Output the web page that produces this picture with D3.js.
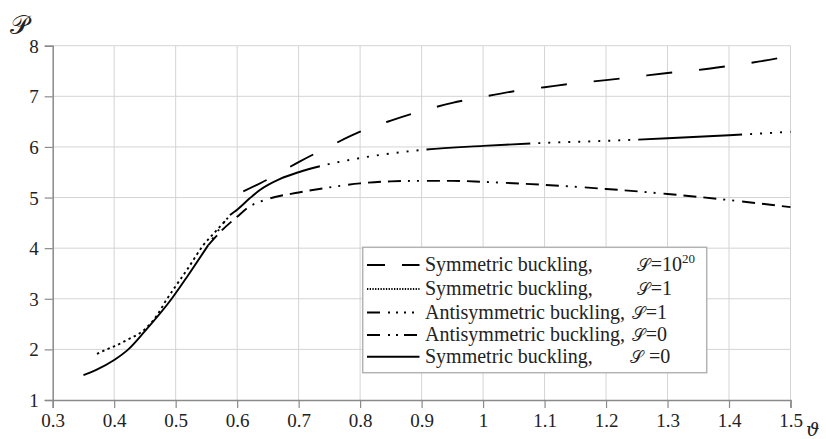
<!DOCTYPE html>
<html><head><meta charset="utf-8">
<script src="https://cdn.jsdelivr.net/npm/d3@7"></script>
<style>body{margin:0;background:#fff}svg{display:block}</style>
</head><body>
<svg id="c" width="826" height="439"></svg>
<script>
// Data
const xTicks = [0.3,0.4,0.5,0.6,0.7,0.8,0.9,1,1.1,1.2,1.3,1.4,1.5];
const yTicks = [1,2,3,4,5,6,7,8];
const symInf = [[0.61,5.12],[0.65,5.36],[0.7,5.70],[0.75,6.01],[0.8,6.30],[0.85,6.52],[0.9,6.71],[0.95,6.87],[1.0,6.99],[1.05,7.10],[1.1,7.18],[1.15,7.26],[1.2,7.32],[1.25,7.39],[1.3,7.46],[1.35,7.52],[1.4,7.60],[1.45,7.69],[1.5,7.80]];
const symS1 = [[0.372,1.91],[0.388,2.0],[0.4,2.06],[0.42,2.18],[0.45,2.4],[0.47,2.68],[0.485,2.98],[0.5,3.25],[0.52,3.6],[0.545,4.06],[0.565,4.33],[0.585,4.6]];
const antiS1 = [[0.553,4.06],[0.57,4.36],[0.589,4.66],[0.6,4.76],[0.62,4.98],[0.637,5.15],[0.67,5.37],[0.7,5.50],[0.735,5.62],[0.8,5.78],[0.9,5.94],[1.0,6.02],[1.1,6.08],[1.2,6.12],[1.3,6.17],[1.4,6.23],[1.5,6.30]];
const antiS0 = [[0.553,4.06],[0.575,4.35],[0.6,4.62],[0.62,4.82],[0.65,4.97],[0.7,5.10],[0.75,5.20],[0.8,5.28],[0.85,5.32],[0.9,5.33],[0.95,5.33],[1.0,5.31],[1.1,5.25],[1.2,5.17],[1.3,5.07],[1.4,4.95],[1.5,4.81]];
const symS0 = [[0.35,1.49],[0.37,1.59],[0.4,1.79],[0.423,2.0],[0.45,2.36],[0.4935,3.0],[0.52,3.46],[0.553,4.06]];
const legendLabels = ["Symmetric buckling,","Symmetric buckling,","Antisymmetric buckling,","Antisymmetric buckling,","Symmetric buckling,"];
const legendS = [["=10","20"],["=1",""],["=1",""],["=0",""],[" =0",""]];

const svg = d3.select("#c");
const x = d3.scaleLinear().domain([0.3,1.5]).range([52.7,790.5]);
const y = d3.scaleLinear().domain([1,8]).range([400,45.7]);
const serif = "Liberation Serif";

// grid
svg.append("g").selectAll("line").data(xTicks.slice(1)).join("line")
  .attr("x1",d=>x(d)).attr("x2",d=>x(d)).attr("y1",y(1)).attr("y2",y(8))
  .attr("stroke","#d4d4d4").attr("stroke-width",1);
svg.append("g").selectAll("line").data(yTicks.slice(1)).join("line")
  .attr("x1",x(0.3)).attr("x2",x(1.5)).attr("y1",d=>y(d)).attr("y2",d=>y(d))
  .attr("stroke","#d4d4d4").attr("stroke-width",1);

// axes
const xAxis = svg.append("g").attr("transform",`translate(0,${y(1)})`)
  .call(d3.axisBottom(x).tickValues(xTicks).tickSize(8).tickPadding(6).tickFormat(d=>String(d)));
const yAxis = svg.append("g").attr("transform",`translate(${x(0.3)},0)`)
  .call(d3.axisLeft(y).tickValues(yTicks).tickSize(8).tickPadding(6).tickFormat(d=>String(d)));
[xAxis,yAxis].forEach(g=>{
  g.attr("font-family",serif).attr("font-size",19);
  g.select(".domain").attr("stroke","#8a8a8a").attr("stroke-width",1.5);
  g.selectAll(".tick line").attr("stroke","#8a8a8a").attr("stroke-width",1.2);
  g.selectAll(".tick text").attr("font-family",serif).attr("font-size",19).attr("fill","#222");
});
yAxis.selectAll(".tick text").attr("dy","0.34em");

// curves
const line = d3.line().x(d=>x(d[0])).y(d=>y(d[1])).curve(d3.curveMonotoneX);
function draw(data, dash, offset){
  const p = svg.append("path").datum(data).attr("d",line).attr("fill","none")
    .attr("stroke","#000").attr("stroke-width",1.9);
  if(dash) p.attr("stroke-dasharray",dash);
  if(offset) p.attr("stroke-dashoffset",offset);
  return p;
}
const dotRun = (n,g,dl)=>Array(n).fill(`${g},${dl}`).join(",");
draw(symInf,"26,27");
draw(symS1,"2.4,3.4");
draw(antiS1,"104,"+dotRun(10,8,2)+",8",175);
draw(antiS0,"13,7,13,7,13,7,2,7,2,8");
draw(symS0,null);

// legend
const lg = svg.append("g").attr("font-family",serif).attr("font-size",20).attr("fill","#222");
lg.append("rect").attr("x",362.7).attr("y",247.3).attr("width",344).attr("height",125.4)
  .attr("fill","#fff").attr("stroke","#b3b3b3").attr("stroke-width",1.5);
const rowY = [265,289,312.5,335,356.7];
const legDash = ["18,17,18","1.3,1.4",`13,8,${dotRun(4,2,6)}`,"13,8,2,6,2,6,13,8,2,8",null];
const sX = [636.7,636.7,631.7,631.7,630];
legendLabels.forEach((t,i)=>{
  const l = lg.append("line").attr("x1",367).attr("x2",419.5).attr("y1",rowY[i]).attr("y2",rowY[i])
    .attr("stroke","#000").attr("stroke-width",1.9);
  if(legDash[i]) l.attr("stroke-dasharray",legDash[i]);
  lg.append("text").attr("x",425).attr("y",rowY[i]+6).text(t);
  const tt = lg.append("text").attr("x",sX[i]).attr("y",rowY[i]+6);
  tt.append("tspan").attr("font-size",17).text("𝒮");
  tt.append("tspan").attr("dx",1).text(legendS[i][0]);
  if(legendS[i][1]) tt.append("tspan").attr("dy",-8).attr("font-size",13).text(legendS[i][1]);
});

// axis titles
svg.append("text").attr("x",10).attr("y",34).attr("font-family",serif).attr("font-size",26).attr("fill","#222").text("𝒫");
svg.append("text").attr("x",806).attr("y",436).attr("font-family","DejaVu Serif").attr("font-style","italic").attr("font-size",19).attr("fill","#222").text("ϑ");
</script>
</body></html>
